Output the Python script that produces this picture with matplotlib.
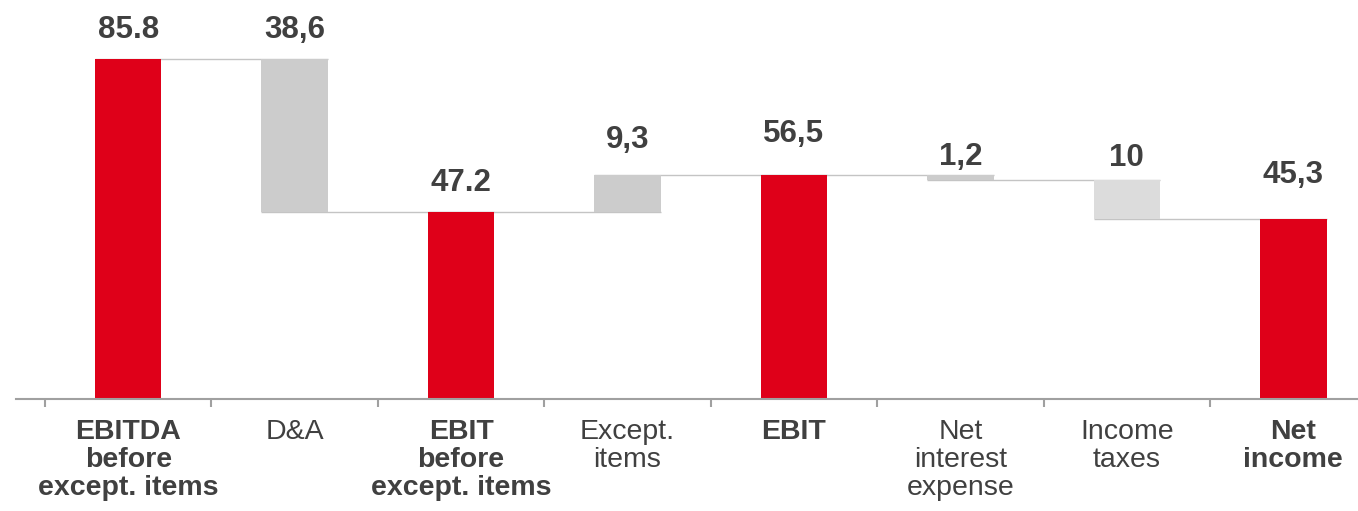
import matplotlib
matplotlib.use("Agg")
import matplotlib.pyplot as plt

plt.rcParams['font.family'] = ['Liberation Sans', 'DejaVu Sans']

# Bridge from EBITDA to net income
categories = ["EBITDA\nbefore\nexcept. items", "D&A", "EBIT\nbefore\nexcept. items",
              "Except.\nitems", "EBIT", "Net\ninterest\nexpense", "Income\ntaxes", "Net\nincome"]
values = [85.8, -38.6, 47.2, 9.3, 56.5, -1.2, -10.0, 45.3]
is_total = [True, False, True, False, True, False, False, True]
value_labels = ["85.8", "38,6", "47.2", "9,3", "56,5", "1,2", "10", "45,3"]

RED = "#df0019"
GREY = "#cccccc"
LIGHT_GREY = "#dcdcdc"
TEXT = "#404040"
delta_colors = {1: GREY, 3: GREY, 5: GREY, 6: LIGHT_GREY}
label_gap_px = [21, 21, 21, 27, 33, 10, 14, 36]

fig = plt.figure(figsize=(13.58, 5.11), dpi=100)
ax = fig.add_axes([16 / 1358, 1 - 398.5 / 511, 1 - 16 / 1358, 398.5 / 511])

width = 0.40
bottoms, tops = [], []
running = 0.0
for i, v in enumerate(values):
    if is_total[i]:
        b, t = 0.0, v
        running = v
    else:
        start = running
        running = running + v
        b, t = min(start, running), max(start, running)
    bottoms.append(b)
    tops.append(t)
    color = RED if is_total[i] else delta_colors[i]
    ax.bar(i, t - b, bottom=b, width=width, color=color, linewidth=0, zorder=2)

# connector lines between consecutive bars
levels = []
running = 0.0
for i, v in enumerate(values):
    running = v if is_total[i] else running + v
    levels.append(running)
for i in range(len(values) - 1):
    ax.plot([i - width / 2, i + 1 + width / 2], [levels[i], levels[i]],
            color="#c4c4c4", linewidth=1.0, zorder=1, solid_capstyle="butt")

for i, lab in enumerate(value_labels):
    ax.annotate(lab, (i, tops[i]), xytext=(0, label_gap_px[i] * 0.72),
                textcoords="offset points", ha="center", va="baseline",
                fontsize=22.5, fontweight="bold", color=TEXT)

ax.set_xlim(-0.674, 7.389)
ax.set_ylim(0, 398.5 / 3.957)

for s in ["top", "right", "left"]:
    ax.spines[s].set_visible(False)
ax.spines["bottom"].set_color("#a0a0a0")
ax.spines["bottom"].set_linewidth(1.5)
ax.set_yticks([])

ax.set_xticks([i + 0.5 for i in range(-1, 7)], minor=False)
ax.set_xticklabels([])
ax.tick_params(axis="x", which="major", direction="out", length=5.5, width=1.5, color="#a0a0a0")
ax.set_xticks(range(len(categories)), minor=True)
ax.set_xticklabels(categories, minor=True)
ax.tick_params(axis="x", which="minor", length=0, pad=15)
for i, t in enumerate(ax.get_xticklabels(minor=True)):
    t.set_fontsize(20.5)
    t.set_color(TEXT)
    t.set_multialignment("center")
    if is_total[i]:
        t.set_fontweight("bold")
    t.set_linespacing(1.1)

fig.savefig("out.png", dpi=100)
